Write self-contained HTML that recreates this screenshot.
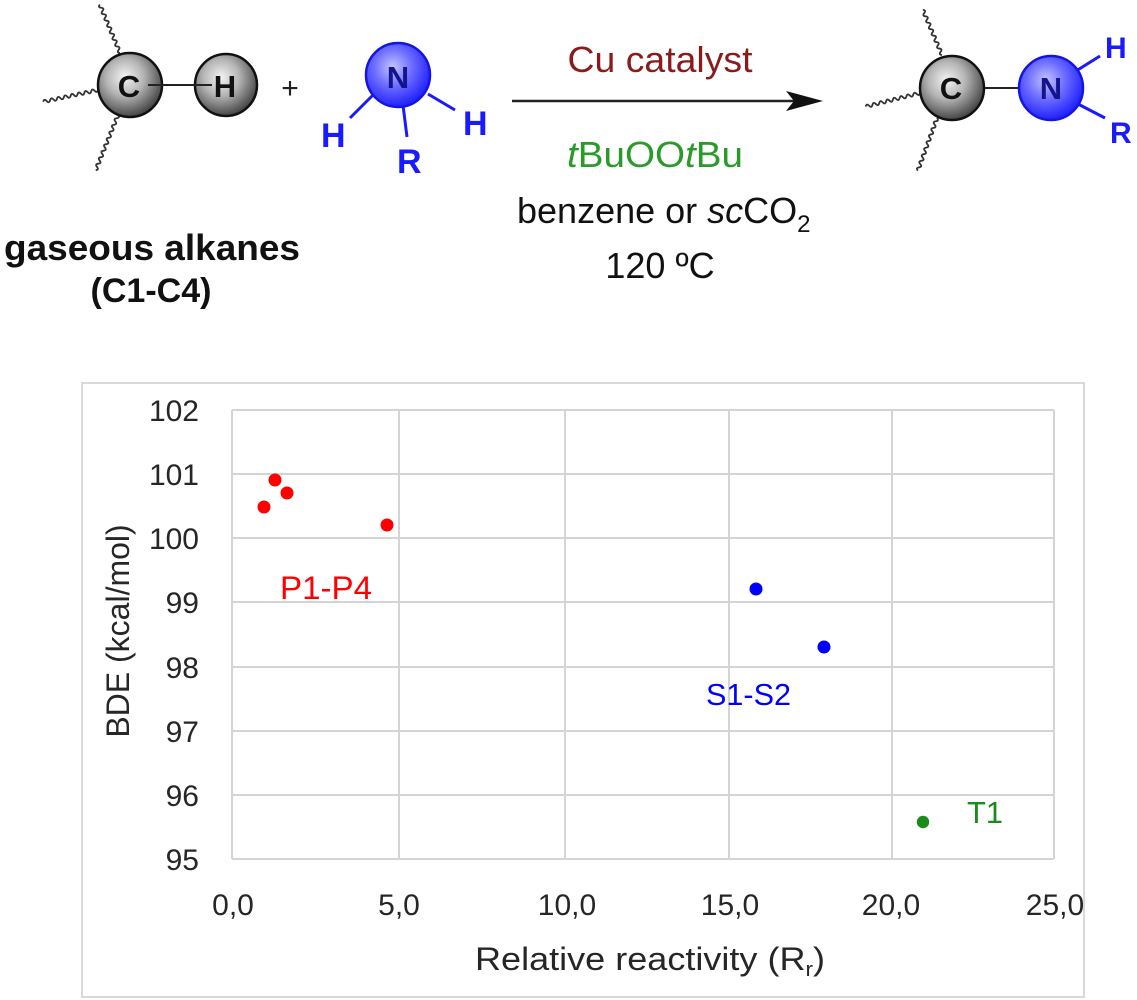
<!DOCTYPE html>
<html>
<head>
<meta charset="utf-8">
<style>
  html,body{margin:0;padding:0;background:#fff;}
  svg{display:block;}
  text{font-family:"Liberation Sans", Arial, sans-serif;}
</style>
</head>
<body>
<svg width="1137" height="1000" viewBox="0 0 1137 1000" xmlns="http://www.w3.org/2000/svg">
  <defs>
    <radialGradient id="gball" cx="0.42" cy="0.38" r="0.65">
      <stop offset="0" stop-color="#f4f4f4"/>
      <stop offset="0.45" stop-color="#b4b4b4"/>
      <stop offset="1" stop-color="#3c3c3c"/>
    </radialGradient>
    <radialGradient id="bball" cx="0.42" cy="0.38" r="0.65">
      <stop offset="0" stop-color="#c4c4ff"/>
      <stop offset="0.45" stop-color="#6e6eff"/>
      <stop offset="1" stop-color="#1a1aff"/>
    </radialGradient>
  </defs>
  <rect width="1137" height="1000" fill="#fff"/>

  <!-- ===== Reactant C-H ===== -->
  <g fill="none" stroke="#333" stroke-width="1.8">
    <path transform="translate(120,53) rotate(-112.6)" d="M0 0 q1.75 -3.2 3.5 0 t3.5 0 t3.5 0 t3.5 0 t3.5 0 t3.5 0 t3.5 0 t3.5 0 t3.5 0 t3.5 0 t3.5 0 t3.5 0 t3.5 0 t3.5 0 t3.5 0"/>
    <path transform="translate(98,90) rotate(167.9)" d="M0 0 q1.75 -3.2 3.5 0 t3.5 0 t3.5 0 t3.5 0 t3.5 0 t3.5 0 t3.5 0 t3.5 0 t3.5 0 t3.5 0 t3.5 0 t3.5 0 t3.5 0 t3.5 0 t3.5 0 t3.5 0"/>
    <path transform="translate(118,115) rotate(112)" d="M0 0 q1.75 -3.2 3.5 0 t3.5 0 t3.5 0 t3.5 0 t3.5 0 t3.5 0 t3.5 0 t3.5 0 t3.5 0 t3.5 0 t3.5 0 t3.5 0 t3.5 0 t3.5 0 t3.5 0 t3.5 0 t3.5 0"/>
  </g>
  <circle cx="130" cy="85" r="32" fill="url(#gball)" stroke="#111" stroke-width="2.5"/>
  <circle cx="226" cy="85" r="31" fill="url(#gball)" stroke="#111" stroke-width="2.5"/>
  <line x1="148" y1="85" x2="212" y2="85" stroke="#222" stroke-width="2"/>
  <text x="129" y="97" font-size="31" font-weight="bold" fill="#111" text-anchor="middle">C</text>
  <text x="225" y="97" font-size="31" font-weight="bold" fill="#111" text-anchor="middle">H</text>

  <text x="290" y="98" font-size="30" fill="#222" text-anchor="middle">+</text>

  <!-- ===== Amine ===== -->
  <g stroke="#1a1aff" stroke-width="3">
    <line x1="373" y1="95" x2="350" y2="118"/>
    <line x1="403" y1="105" x2="407" y2="137"/>
    <line x1="428" y1="94" x2="455" y2="110"/>
  </g>
  <circle cx="398" cy="75" r="32" fill="url(#bball)" stroke="#1515e0" stroke-width="2.5"/>
  <text x="398" y="88" font-size="31" font-weight="bold" fill="#14148c" text-anchor="middle">N</text>
  <text x="321" y="147" font-size="34" font-weight="bold" fill="#1a1aff">H</text>
  <text x="397" y="173" font-size="34" font-weight="bold" fill="#1a1aff">R</text>
  <text x="463" y="135" font-size="34" font-weight="bold" fill="#1a1aff">H</text>

  <text x="152" y="260" font-size="36" font-weight="bold" fill="#111" text-anchor="middle" textLength="296" lengthAdjust="spacingAndGlyphs">gaseous alkanes</text>
  <text x="151" y="302" font-size="34" font-weight="bold" fill="#111" text-anchor="middle">(C1-C4)</text>

  <!-- ===== Arrow & conditions ===== -->
  <text x="660" y="72" font-size="36" fill="#8b1a1a" text-anchor="middle" textLength="185" lengthAdjust="spacingAndGlyphs">Cu catalyst</text>
  <line x1="512" y1="101" x2="800" y2="101" stroke="#222" stroke-width="2.5"/>
  <polygon points="786,91 823,101 786,111 794,101" fill="#111"/>
  <text x="655" y="167" font-size="36" fill="#2a9a2a" text-anchor="middle" textLength="176" lengthAdjust="spacingAndGlyphs"><tspan font-style="italic">t</tspan>BuOO<tspan font-style="italic">t</tspan>Bu</text>
  <text x="517" y="223" font-size="36" fill="#111">benzene or <tspan font-style="italic">sc</tspan>CO<tspan font-size="24" dy="9">2</tspan></text>
  <text x="660" y="278" font-size="36" fill="#111" text-anchor="middle">120 ºC</text>

  <!-- ===== Product ===== -->
  <g fill="none" stroke="#333" stroke-width="1.8">
    <path transform="translate(942,55) rotate(-113)" d="M0 0 q1.75 -3.2 3.5 0 t3.5 0 t3.5 0 t3.5 0 t3.5 0 t3.5 0 t3.5 0 t3.5 0 t3.5 0 t3.5 0 t3.5 0 t3.5 0 t3.5 0 t3.5 0"/>
    <path transform="translate(920,93) rotate(166)" d="M0 0 q1.75 -3.2 3.5 0 t3.5 0 t3.5 0 t3.5 0 t3.5 0 t3.5 0 t3.5 0 t3.5 0 t3.5 0 t3.5 0 t3.5 0 t3.5 0 t3.5 0 t3.5 0 t3.5 0 t3.5 0"/>
    <path transform="translate(937,118) rotate(110)" d="M0 0 q1.75 -3.2 3.5 0 t3.5 0 t3.5 0 t3.5 0 t3.5 0 t3.5 0 t3.5 0 t3.5 0 t3.5 0 t3.5 0 t3.5 0 t3.5 0 t3.5 0 t3.5 0 t3.5 0 t3.5 0"/>
  </g>
  <line x1="983" y1="88" x2="1020" y2="88" stroke="#222" stroke-width="2"/>
  <g stroke="#1a1aff" stroke-width="3">
    <line x1="1076" y1="71" x2="1100" y2="56"/>
    <line x1="1078" y1="104" x2="1105" y2="118"/>
  </g>
  <circle cx="952" cy="88" r="32" fill="url(#gball)" stroke="#111" stroke-width="2.5"/>
  <circle cx="1051" cy="88" r="32" fill="url(#bball)" stroke="#1515e0" stroke-width="2.5"/>
  <text x="951" y="99" font-size="31" font-weight="bold" fill="#111" text-anchor="middle">C</text>
  <text x="1051" y="99" font-size="31" font-weight="bold" fill="#14148c" text-anchor="middle">N</text>
  <text x="1105" y="58" font-size="30" font-weight="bold" fill="#1a1aff">H</text>
  <text x="1110" y="143" font-size="30" font-weight="bold" fill="#1a1aff">R</text>

  <!-- ===== Chart ===== -->
  <rect x="82" y="383" width="1002" height="614" fill="#fff" stroke="#d9d9d9" stroke-width="2"/>
  <g stroke="#d4d4d4" stroke-width="2">
    <!-- horizontal -->
    <line x1="232" y1="410" x2="1054" y2="410"/>
    <line x1="232" y1="474" x2="1054" y2="474"/>
    <line x1="232" y1="538" x2="1054" y2="538"/>
    <line x1="232" y1="602" x2="1054" y2="602"/>
    <line x1="232" y1="667" x2="1054" y2="667"/>
    <line x1="232" y1="731" x2="1054" y2="731"/>
    <line x1="232" y1="795" x2="1054" y2="795"/>
    <line x1="232" y1="859" x2="1054" y2="859"/>
    <!-- vertical -->
    <line x1="232" y1="410" x2="232" y2="859"/>
    <line x1="399" y1="410" x2="399" y2="859"/>
    <line x1="565" y1="410" x2="565" y2="859"/>
    <line x1="729" y1="410" x2="729" y2="859"/>
    <line x1="892" y1="410" x2="892" y2="859"/>
    <line x1="1054" y1="410" x2="1054" y2="859"/>
  </g>

  <g font-size="30" fill="#262626" text-anchor="end">
    <text x="199" y="421">102</text>
    <text x="199" y="485">101</text>
    <text x="199" y="549">100</text>
    <text x="199" y="613">99</text>
    <text x="199" y="678">98</text>
    <text x="199" y="742">97</text>
    <text x="199" y="806">96</text>
    <text x="199" y="870">95</text>
  </g>
  <g font-size="30" fill="#262626" text-anchor="middle">
    <text x="233" y="915">0,0</text>
    <text x="399" y="915">5,0</text>
    <text x="567" y="915">10,0</text>
    <text x="730" y="915">15,0</text>
    <text x="891" y="915">20,0</text>
    <text x="1055" y="915">25,0</text>
  </g>

  <text x="475" y="970" font-size="32" fill="#262626" textLength="350" lengthAdjust="spacingAndGlyphs">Relative reactivity (R<tspan font-size="20" dy="6">r</tspan><tspan dy="-6">)</tspan></text>
  <text transform="translate(129,631) rotate(-90)" x="0" y="0" font-size="32" fill="#262626" text-anchor="middle">BDE (kcal/mol)</text>

  <!-- data -->
  <g fill="#ff0000">
    <circle cx="264" cy="507" r="6.5"/>
    <circle cx="275" cy="480" r="6.5"/>
    <circle cx="287" cy="493" r="6.5"/>
    <circle cx="387" cy="525" r="6.5"/>
  </g>
  <g fill="#0000ff">
    <circle cx="756" cy="589" r="6.5"/>
    <circle cx="824" cy="647" r="6.5"/>
  </g>
  <circle cx="923" cy="822" r="6.2" fill="#1a8a1a"/>

  <text x="280" y="599" font-size="32" fill="#ff0000" textLength="92" lengthAdjust="spacingAndGlyphs">P1-P4</text>
  <text x="706" y="705" font-size="31" fill="#0000ff" textLength="85" lengthAdjust="spacingAndGlyphs">S1-S2</text>
  <text x="967" y="823" font-size="31" fill="#1a8a1a" textLength="36" lengthAdjust="spacingAndGlyphs">T1</text>
</svg>
</body>
</html>
